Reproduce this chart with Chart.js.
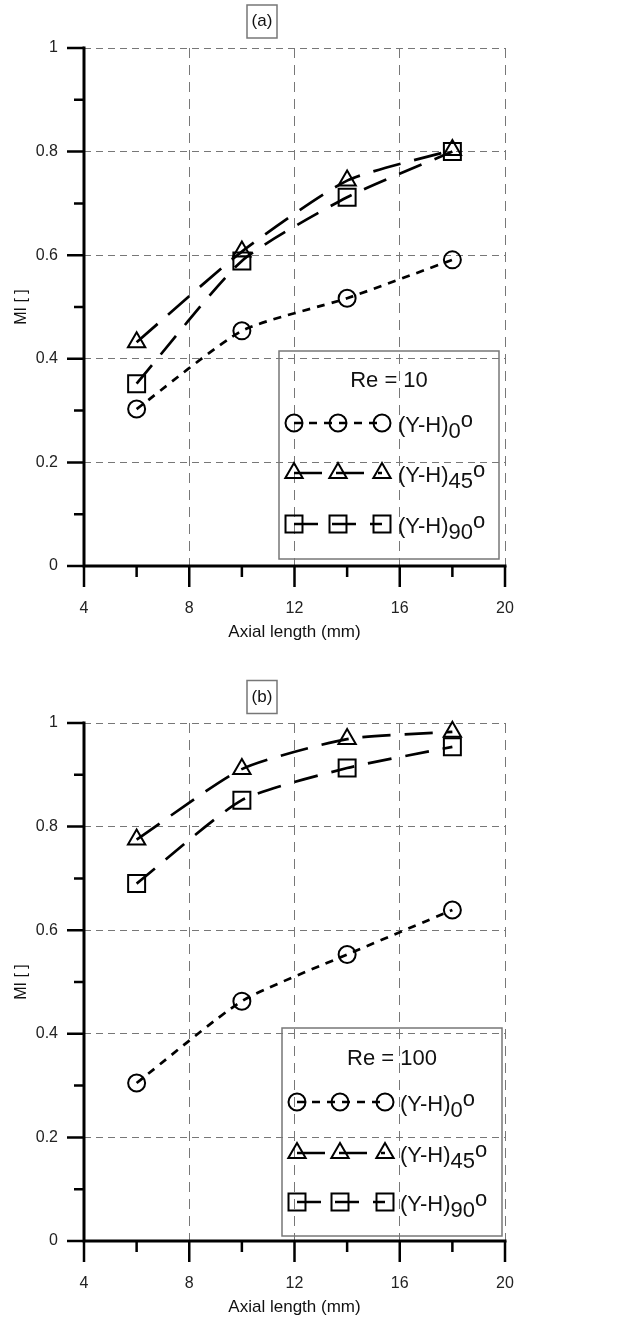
<!DOCTYPE html>
<html>
<head>
<meta charset="utf-8">
<script src="https://cdn.jsdelivr.net/npm/chart.js@4.4.1/dist/chart.umd.min.js"></script>
<style>
  html, body { margin: 0; padding: 0; background: #fff; overflow: hidden; }
  #wrap { position: relative; width: 637px; height: 1321px; }
  .panel { position: absolute; left: 0; width: 637px; height: 660px; }
</style>
</head>
<body>
<div id="wrap">
  <div class="panel" style="top:0"><canvas id="chartA" width="637" height="660"></canvas></div>
  <div class="panel" style="top:675px"><canvas id="chartB" width="637" height="660"></canvas></div>
</div>
<script>
// x positions of the measurements (mm)
const axialLength = [6, 10, 14, 18];

// Re = 10
const re10_0 = [0.303, 0.454, 0.517, 0.591];
const re10_45 = [0.432, 0.607, 0.744, 0.803];
const re10_90 = [0.352, 0.589, 0.712, 0.800];

// Re = 100
const re100_0 = [0.305, 0.463, 0.553, 0.639];
const re100_45 = [0.775, 0.911, 0.969, 0.983];
const re100_90 = [0.690, 0.851, 0.913, 0.954];

const seriesAngles = ['0', '45', '90'];
const xTickLabels = ['4', '8', '12', '16', '20'];
const yTickLabels = ['0', '0.2', '0.4', '0.6', '0.8', '1'];
const xMinorTicks = [6, 10, 14, 18];
const yMinorTicks = [0.1, 0.3, 0.5, 0.7, 0.9];

const FONT = '"Liberation Sans", Arial, sans-serif';

function toPoints(values) {
    return axialLength.map((x, i) => ({ x: x, y: values[i] }));
}

function drawMarker(ctx, style, x, y, r) {
    ctx.beginPath();
    if (style === 'circle') {
        ctx.arc(x, y, r, 0, Math.PI * 2);
    } else if (style === 'triangle') {
        ctx.moveTo(x, y - r);
        ctx.lineTo(x + r * 0.866, y + r * 0.5);
        ctx.lineTo(x - r * 0.866, y + r * 0.5);
        ctx.closePath();
    } else {
        let h = r * Math.SQRT1_2;
        ctx.rect(x - h, y - h, 2 * h, 2 * h);
    }
    ctx.stroke();
}

// axes, tick marks, the boxed panel label and the Origin-like legend
const decorPlugin = {
    id: 'decor',
    afterDraw(chart, args, opts) {
        const ctx = chart.ctx;
        const xs = chart.scales.x, ys = chart.scales.y;
        const { left, right, top, bottom } = chart.chartArea;

        ctx.save();
        ctx.setLineDash([]);
        ctx.strokeStyle = '#000';

        // tick marks
        ctx.lineWidth = 2.5;
        ctx.beginPath();
        xTickLabels.forEach(t => {
            let px = xs.getPixelForValue(parseFloat(t));
            ctx.moveTo(px, bottom); ctx.lineTo(px, bottom + 21);
        });
        xMinorTicks.forEach(t => {
            let px = xs.getPixelForValue(t);
            ctx.moveTo(px, bottom); ctx.lineTo(px, bottom + 11);
        });
        yTickLabels.forEach(t => {
            let py = ys.getPixelForValue(parseFloat(t));
            ctx.moveTo(left, py); ctx.lineTo(left - 17, py);
        });
        yMinorTicks.forEach(t => {
            let py = ys.getPixelForValue(t);
            ctx.moveTo(left, py); ctx.lineTo(left - 10, py);
        });
        ctx.stroke();

        // axis lines
        ctx.lineWidth = 3;
        ctx.lineCap = 'square';
        ctx.beginPath();
        ctx.moveTo(left, top); ctx.lineTo(left, bottom); ctx.lineTo(right, bottom);
        ctx.stroke();
        ctx.lineCap = 'butt';

        // boxed panel label
        ctx.strokeStyle = '#777';
        ctx.lineWidth = 1.5;
        ctx.strokeRect(opts.label.x - 15, opts.label.y - 16.5, 30, 33);
        ctx.fillStyle = '#111';
        ctx.font = '17px ' + FONT;
        ctx.textAlign = 'center';
        ctx.textBaseline = 'middle';
        ctx.fillText(opts.label.text, opts.label.x, opts.label.y);

        // legend
        const lg = opts.legend;
        ctx.strokeStyle = '#777';
        ctx.lineWidth = 1.5;
        ctx.strokeRect(lg.x, lg.y, lg.w, lg.h);
        ctx.fillStyle = '#111';
        ctx.font = '22px ' + FONT;
        ctx.textAlign = 'center';
        ctx.textBaseline = 'alphabetic';
        ctx.fillText(lg.title, lg.x + lg.w / 2, lg.titleY + 8);

        chart.data.datasets.forEach((ds, i) => {
            let rowY = lg.rows[i];
            // dashed line through the three markers
            ctx.strokeStyle = '#000';
            ctx.lineWidth = ds.borderWidth;
            ctx.setLineDash(ds.borderDash);
            ctx.beginPath();
            ctx.moveTo(lg.markers[0], rowY);
            ctx.lineTo(lg.markers[2], rowY);
            ctx.stroke();
            ctx.setLineDash([]);
            ctx.lineWidth = ds.pointBorderWidth;
            lg.markers.forEach(mx => drawMarker(ctx, ds.pointStyle, mx, rowY, ds.pointRadius));

            // (Y-H) with subscript angle and superscript o
            ctx.textAlign = 'left';
            ctx.font = '22px ' + FONT;
            let base = rowY + 9;
            let tx = lg.textX;
            ctx.fillText('(Y-H)', tx, base);
            tx += ctx.measureText('(Y-H)').width;
            ctx.fillText(seriesAngles[i], tx, base + 6);
            tx += ctx.measureText(seriesAngles[i]).width;
            ctx.fillText('o', tx, base - 5);
        });
        ctx.restore();
    }
};

function makeChart(canvasId, s0, s45, s90, decor) {
    const common = {
        borderColor: '#000',
        borderWidth: 2.7,
        pointBorderColor: '#000',
        pointBackgroundColor: 'rgba(0,0,0,0)',
        pointBorderWidth: 2,
        fill: false,
        tension: 0.2,
        clip: false
    };
    const ctx = document.getElementById(canvasId).getContext('2d');
    return new Chart(ctx, {
        type: 'line',
        data: {
            datasets: [
                Object.assign({ label: '(Y-H)0', data: toPoints(s0), pointStyle: 'circle', pointRadius: 8.5, borderDash: [8, 7] }, common),
                Object.assign({ label: '(Y-H)45', data: toPoints(s45), pointStyle: 'triangle', pointRadius: 10, borderDash: [28, 14] }, common),
                Object.assign({ label: '(Y-H)90', data: toPoints(s90), pointStyle: 'rect', pointRadius: 12, borderDash: [24, 14] }, common)
            ]
        },
        plugins: [decorPlugin],
        options: {
            responsive: false,
            animation: false,
            events: [],
            layout: { padding: { left: 0, right: 132, top: 48, bottom: 0 } },
            plugins: {
                legend: { display: false },
                tooltip: { enabled: false },
                decor: decor
            },
            scales: {
                x: {
                    type: 'linear',
                    min: 4, max: 20,
                    afterBuildTicks: (scale) => { scale.ticks = xTickLabels.map(t => ({ value: parseFloat(t) })); },
                    afterFit: (scale) => { scale.height = 94; },
                    ticks: {
                        callback: (value, index) => xTickLabels[index],
                        font: { family: FONT, size: 16 },
                        color: '#222',
                        padding: 33,
                        maxRotation: 0
                    },
                    grid: { color: '#777', lineWidth: 1, drawTicks: false },
                    border: { display: false, dash: [10, 7] },
                    title: {
                        display: true,
                        text: 'Axial length (mm)',
                        font: { family: FONT, size: 17 },
                        color: '#111',
                        padding: { top: 0, bottom: 17 }
                    }
                },
                y: {
                    min: 0, max: 1,
                    afterBuildTicks: (scale) => { scale.ticks = yTickLabels.map(t => ({ value: parseFloat(t) })); },
                    afterFit: (scale) => { scale.width = 84; },
                    ticks: {
                        callback: (value, index) => yTickLabels[index],
                        font: { family: FONT, size: 16 },
                        color: '#222',
                        padding: 26
                    },
                    grid: { color: '#777', lineWidth: 1, drawTicks: false },
                    border: { display: false, dash: [7, 5] },
                    title: {
                        display: true,
                        text: 'MI [ ]',
                        font: { family: FONT, size: 16 },
                        color: '#111',
                        padding: { top: 12, bottom: 0 }
                    }
                }
            }
        }
    });
}

makeChart('chartA', re10_0, re10_45, re10_90, {
    label: { text: '(a)', x: 262, y: 21.5 },
    legend: { title: 'Re = 10', x: 279, y: 351, w: 220, h: 208, titleY: 379,
              rows: [423, 473, 524], markers: [294, 338, 382], textX: 398 }
});

makeChart('chartB', re100_0, re100_45, re100_90, {
    label: { text: '(b)', x: 262, y: 22 },
    legend: { title: 'Re = 100', x: 282, y: 353, w: 220, h: 208, titleY: 382,
              rows: [427, 478, 527], markers: [297, 340, 385], textX: 400 }
});
</script>
</body>
</html>
